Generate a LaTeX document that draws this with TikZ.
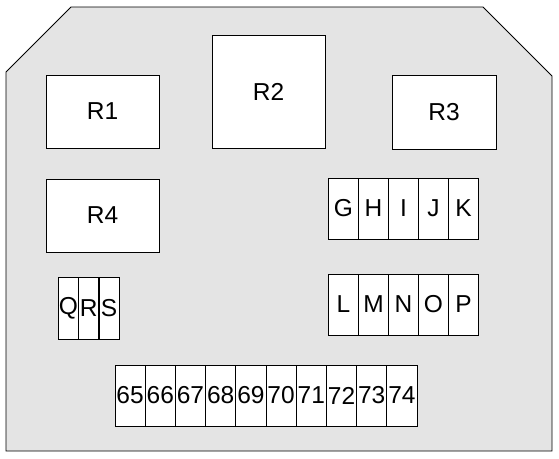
\documentclass[tikz,border=0pt]{standalone}
\usepackage{fontspec}
\setmainfont{Liberation Sans}
\begin{document}
\begin{tikzpicture}[x=1pt,y=-1pt,
  box/.style={draw=black,fill=white,line width=0.8pt,inner sep=0pt,font=\fontsize{24.5}{24.5}\selectfont},
  cell/.style={box,minimum width=30pt,minimum height=61pt},
  thin/.style={box,minimum width=20pt,minimum height=62pt}]
\useasboundingbox (0,0) rectangle (559,458);
\draw[fill={rgb,255:red,228;green,228;blue,228},line width=0.9pt]
  (71,7) -- (483,7) -- (552,76) -- (552,451) -- (6,451) -- (6,72) -- cycle;
% relays
\node[box,minimum width=113pt,minimum height=73pt] (R1) at (102.5,111.5) {R1};
\node[box,minimum width=113pt,minimum height=113pt] (R2) at (268.5,91.5) {R2};
\node[box,minimum width=104pt,minimum height=74pt] (R3) at (444,112) {R3};
\node[box,minimum width=113pt,minimum height=73pt] (R4) at (102.5,215.5) {R4};
% G-K
\foreach \t [count=\i from 0] in {G,H,I,J,K}
  \node[cell] (c\t) at (343.5+30*\i,208.5) {\t};
% L-P
\foreach \t [count=\i from 0] in {L,M,N,O,P}
  \node[cell] (c\t) at (343.5+30*\i,304.5) {\t};
% Q R S
\foreach \t [count=\i from 0] in {Q,R,S}
  \node[thin] (c\t) at (68.5+20.3*\i,308) {\t};
% 65-74
\foreach \t [count=\i from 0] in {65,66,67,68,69,70,71,72,73,74}
  \node[box,minimum width=30.2pt,minimum height=61pt] (n\t) at (130.1+30.2*\i,395.5) {\t};
\end{tikzpicture}
\end{document}
